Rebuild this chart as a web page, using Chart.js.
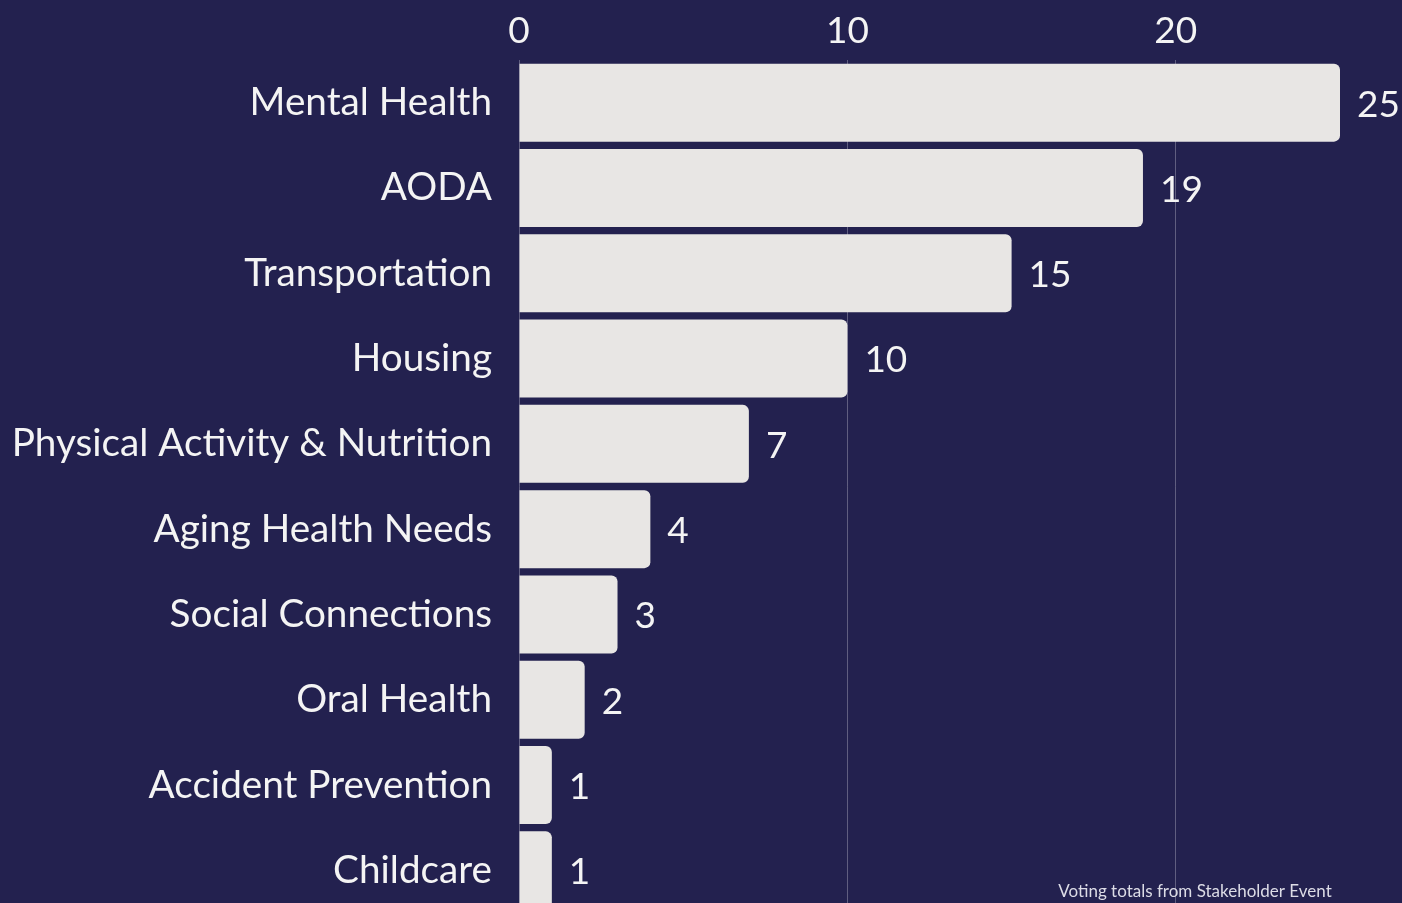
<!DOCTYPE html>
<html>
<head>
<meta charset="utf-8">
<script src="https://cdn.jsdelivr.net/npm/chart.js@4.4.1/dist/chart.umd.min.js"></script>
<style>
  html, body { margin: 0; padding: 0; background: #23214f; overflow: hidden; }
  #wrap { width: 1402px; height: 903px; overflow: hidden; }
</style>
</head>
<body>
<div id="wrap"><canvas id="graph_votes" width="1402" height="920"></canvas></div>
<script>
// categories and vote counts
const topics = ["Mental Health", "AODA", "Transportation", "Housing", "Physical Activity & Nutrition",
                "Aging Health Needs", "Social Connections", "Oral Health", "Accident Prevention", "Childcare"];
const votes = [25, 19, 15, 10, 7, 4, 3, 2, 1, 1];
const xTicks = [0, 10, 20];
const footNote = "Voting totals from Stakeholder Event";

const FONT = "Lato";

// value labels right of each bar + footnote
const valueLabels = {
    id: "valueLabels",
    afterDatasetsDraw(chart) {
        const ctx = chart.ctx;
        const meta = chart.getDatasetMeta(0);
        ctx.save();
        ctx.fillStyle = "#f4f4f4";
        ctx.font = "37px " + FONT;
        ctx.textAlign = "left";
        ctx.textBaseline = "middle";
        meta.data.forEach((bar, i) => {
            ctx.fillText(String(votes[i]), bar.x + 17, bar.y + 2);
        });
        ctx.font = "17px " + FONT;
        ctx.fillStyle = "#dcdce6";
        ctx.textAlign = "center";
        ctx.textBaseline = "alphabetic";
        ctx.fillText(footNote, 1195, 897);
        ctx.restore();
    }
};

const ctx = document.getElementById("graph_votes").getContext("2d");
let votesChart = new Chart(ctx, {
    type: "bar",
    data: {
        labels: topics,
        datasets: [{
            data: votes,
            backgroundColor: "#e8e6e4",
            borderRadius: { topLeft: 0, bottomLeft: 0, topRight: 6, bottomRight: 6 },
            borderSkipped: false,
            barPercentage: 0.914,
            categoryPercentage: 1.0
        }]
    },
    options: {
        indexAxis: "y",
        responsive: false,
        animation: false,
        layout: { padding: { top: 0, right: 62, bottom: 7, left: 0 } },
        scales: {
            x: {
                position: "top",
                min: 0,
                max: 25,
                afterFit: (scale) => { scale.height = 60; scale.paddingLeft = 0; scale.paddingRight = 0; },
                afterBuildTicks: (scale) => { scale.ticks = xTicks.map(v => ({ value: v })); },
                grid: { color: "rgba(255,255,255,0.28)", lineWidth: 1, drawTicks: false },
                border: { display: false },
                ticks: { color: "#f4f4f4", font: { family: FONT, size: 37 }, padding: 7 }
            },
            y: {
                // keep the category band running past the bottom edge like the original
                afterFit: (scale) => { scale.width = 519; scale.paddingTop = 0; scale.paddingBottom = 0; },
                grid: { display: false, drawTicks: false },
                border: { display: false },
                ticks: { color: "#f4f4f4", font: { family: FONT, size: 38.7 }, padding: 27 }
            }
        },
        plugins: {
            legend: { display: false },
            tooltip: { enabled: false }
        }
    },
    plugins: [valueLabels]
});
</script>
</body>
</html>
